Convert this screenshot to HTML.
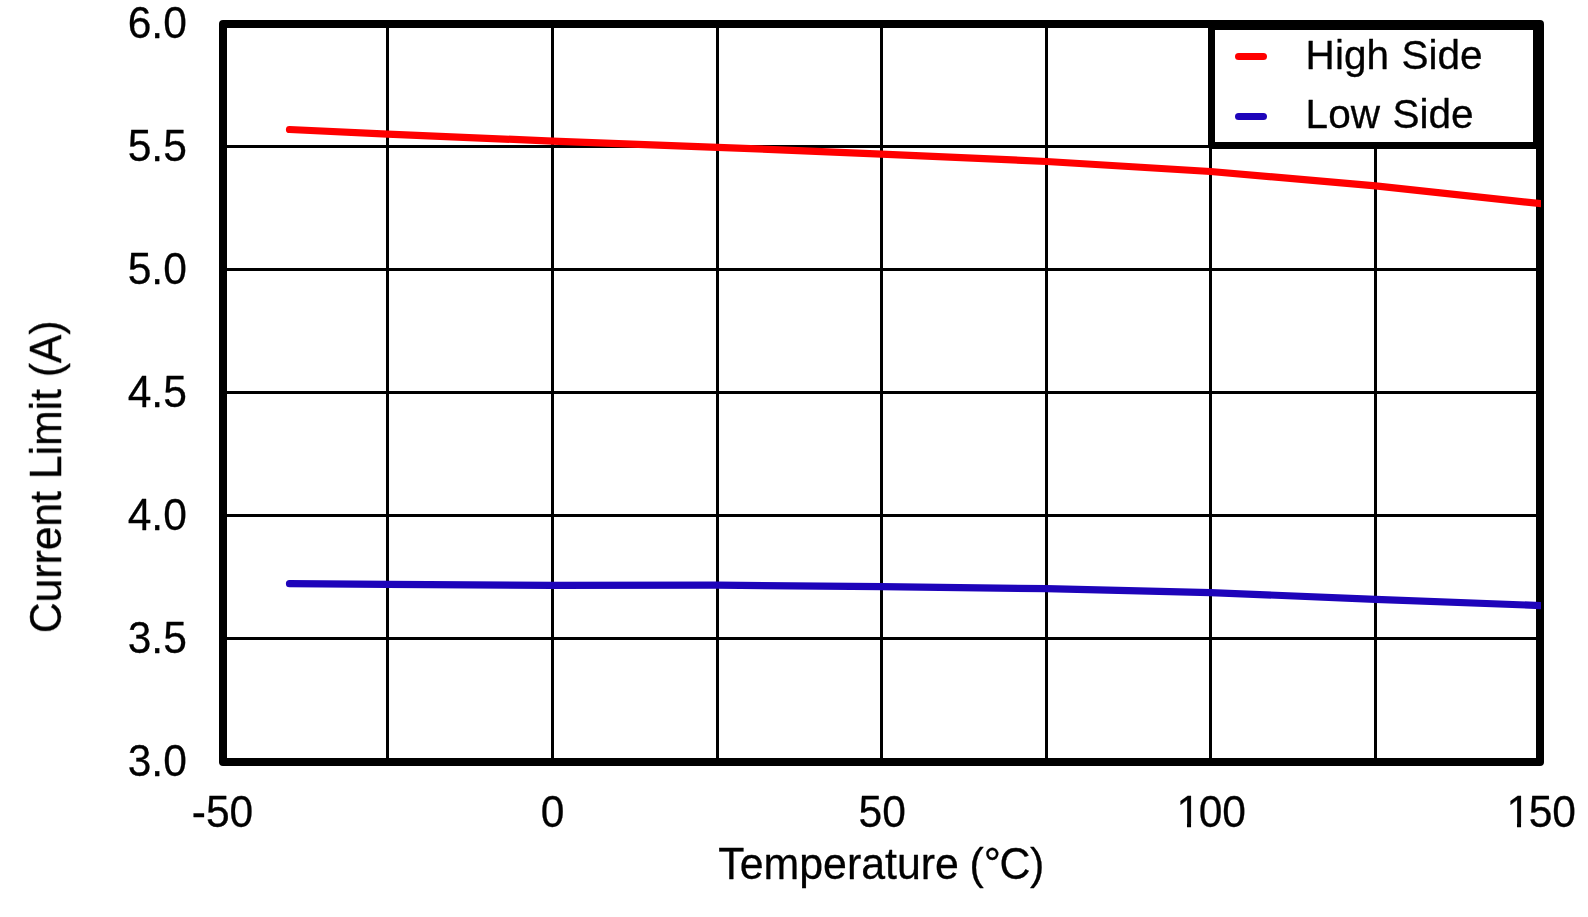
<!DOCTYPE html>
<html lang="en">
<head>
<meta charset="utf-8">
<title>Current Limit vs Temperature</title>
<style>
  html, body { margin: 0; padding: 0; background: #ffffff; }
  body { width: 1588px; height: 917px; overflow: hidden; }
  svg { display: block; }
  text { font-family: "Liberation Sans", Arial, Helvetica, sans-serif; fill: #000; stroke: #000; stroke-width: 0.3px; stroke-linejoin: round; }
  .labels { opacity: 0.999; }
  .tick { font-size: 45px; }
  .title { font-size: 45px; }
  .leg { font-size: 41px; word-spacing: 1.2px; }
</style>
</head>
<body>
<svg width="1588" height="917" viewBox="0 0 1588 917">
  <rect x="0" y="0" width="1588" height="917" fill="#ffffff"/>

  <!-- grid lines -->
  <g fill="#000000" shape-rendering="crispEdges">
    <rect x="386" y="24" width="3" height="738"/>
    <rect x="551" y="24" width="3" height="738"/>
    <rect x="716" y="24" width="3" height="738"/>
    <rect x="880" y="24" width="3" height="738"/>
    <rect x="1045" y="24" width="3" height="738"/>
    <rect x="1209" y="24" width="3" height="738"/>
    <rect x="1374" y="24" width="3" height="738"/>
    <rect x="223" y="145" width="1317" height="3"/>
    <rect x="223" y="268" width="1317" height="3"/>
    <rect x="223" y="391" width="1317" height="3"/>
    <rect x="223" y="514" width="1317" height="3"/>
    <rect x="223" y="637" width="1317" height="3"/>
  </g>

  <!-- plot frame -->
  <rect x="223" y="24" width="1317" height="738" fill="none" stroke="#000000" stroke-width="8" stroke-linejoin="round"/>

  <!-- legend box -->
  <rect x="1211.5" y="26.5" width="325" height="119" fill="#ffffff" stroke="#000000" stroke-width="7" stroke-linejoin="round"/>

  <!-- data curves -->
  <defs>
    <clipPath id="plotclip"><rect x="219" y="20" width="1322" height="746"/></clipPath>
  </defs>
  <g clip-path="url(#plotclip)" fill="none" stroke-width="7.2" stroke-linecap="round" stroke-linejoin="round">
    <polyline stroke="#ff0000" points="289.5,129.5 387.5,134.1 552.5,141.1 717.5,147.3 881.5,154.1 1046.5,161.5 1210.5,171.5 1375.5,185.8 1550,204.6"/>
    <polyline stroke="#1e04ba" points="289.5,583.6 387.5,584.3 552.5,585.3 717.5,585.2 881.5,586.7 1046.5,588.7 1210.5,592.6 1375.5,599.3 1550,605.9"/>
  </g>

  <!-- legend contents -->
  <g fill="none" stroke-width="7.2" stroke-linecap="round">
    <line x1="1238.6" y1="56.5" x2="1263.4" y2="56.5" stroke="#ff0000"/>
    <line x1="1238.6" y1="116.5" x2="1263.4" y2="116.5" stroke="#1e04ba"/>
  </g>
  <g class="labels">
  <text class="leg" transform="translate(1305.6 69) scale(0.989 1)">High Side</text>
  <text class="leg" transform="translate(1305.6 128) scale(0.989 1)">Low Side</text>

  <!-- y tick labels -->
  <g class="tick" text-anchor="end">
    <text transform="translate(186.8 38) scale(0.945 1)">6.0</text>
    <text transform="translate(186.8 161) scale(0.945 1)">5.5</text>
    <text transform="translate(186.8 284) scale(0.945 1)">5.0</text>
    <text transform="translate(186.8 407) scale(0.945 1)">4.5</text>
    <text transform="translate(186.8 530) scale(0.945 1)">4.0</text>
    <text transform="translate(186.8 653) scale(0.945 1)">3.5</text>
    <text transform="translate(186.8 776) scale(0.945 1)">3.0</text>
  </g>

  <!-- x tick labels -->
  <g class="tick" text-anchor="middle">
    <text transform="translate(222.5 827) scale(0.945 1)">-50</text>
    <text transform="translate(552.5 827) scale(0.945 1)">0</text>
    <text transform="translate(882.2 827) scale(0.945 1)">50</text>
    <text transform="translate(1209.79 827) scale(0.945 1)"><tspan dx="1.5">1</tspan><tspan dx="-1.5">00</tspan></text>
    <text transform="translate(1539.79 827) scale(0.945 1)"><tspan dx="1.5">1</tspan><tspan dx="-1.5">50</tspan></text>
  </g>

  <!-- axis titles -->
  <text class="title" text-anchor="middle" style="word-spacing:-1.5px" transform="translate(881.3 879) scale(0.953 1)">Temperature (°<tspan dx="-1.4">C</tspan><tspan dx="-0.4">)</tspan></text>
  <text class="title" text-anchor="middle" transform="translate(61 476.8) rotate(-90) scale(0.948 1)">Current Limit (A)</text>
  </g>
  <!-- trim the foot serif of the "1" glyphs so they read like the reference face -->
  <g fill="#ffffff">
    <rect x="1177.92" y="823" width="9.07" height="6"/>
    <rect x="1191.05" y="823" width="9" height="6"/>
    <rect x="1507.92" y="823" width="9.07" height="6"/>
    <rect x="1521.05" y="823" width="9" height="6"/>
  </g>
</svg>
</body>
</html>
